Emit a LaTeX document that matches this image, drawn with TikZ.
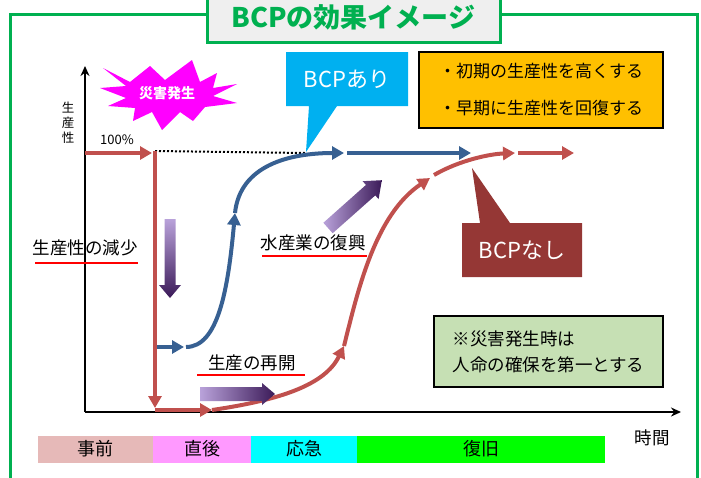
\documentclass[tikz,border=0pt]{standalone}
\usepackage{fontspec}
\setmainfont{Noto Sans CJK JP}
\usetikzlibrary{arrows.meta}
\definecolor{frameg}{HTML}{00B050}
\definecolor{titlebg}{HTML}{EFEFEF}
\definecolor{redc}{HTML}{C0504D}
\definecolor{bluec}{HTML}{376092}
\definecolor{burstc}{HTML}{FF00FF}
\definecolor{cyanc}{HTML}{00B0F0}
\definecolor{orangec}{HTML}{FFC000}
\definecolor{darkredc}{HTML}{953735}
\definecolor{noteg}{HTML}{C6E0B4}
\definecolor{segA}{HTML}{E6B9B8}
\definecolor{segB}{HTML}{FF99FF}
\definecolor{segC}{HTML}{00FFFF}
\definecolor{segD}{HTML}{00FF00}
\definecolor{gradlight}{HTML}{B9A2DA}
\definecolor{graddark}{HTML}{3B1A58}
\begin{document}
\begin{tikzpicture}[x=1pt,y=-1pt,
  every node/.style={inner sep=0pt, outer sep=0pt},
  tip/.style={-{Triangle[length=12pt,width=13pt]}},
  redl/.style={draw=redc, line width=4pt, tip},
  bluel/.style={draw=bluec, line width=4pt, tip},
  lbl/.style={font=\fontsize{17.5}{20}\selectfont, text=black},
  uline/.style={draw=red, line width=2.5pt},
  seg/.style={minimum height=27pt, font=\fontsize{18}{20}\selectfont, anchor=west},
  wtext/.style={text=white, font=\fontsize{22}{24}\selectfont},
  axis/.style={draw=black, line width=2pt, -{Stealth[length=10pt,width=9pt]}},
  ]
\clip (0,0) rectangle (701,477);
% frame
\draw[frameg, line width=3pt] (10,490) -- (10,14) -- (697,14) -- (697,490);
% title
\node[draw=frameg, line width=3pt, fill=titlebg, minimum width=293pt, minimum height=48pt] (titlebox) at (353.5,18) {};
\node[text=frameg, font=\fontsize{27}{30}\selectfont\bfseries] (titletext) at (353.5,17) {BCPの効果イメージ};

% axes
\coordinate (origin) at (85,412);
\coordinate (ytop) at (85,66);
\coordinate (xend) at (681,412);
\draw[axis] (origin) -- (ytop);
\draw[axis] (origin) -- (xend);
\node[font=\fontsize{12.5}{15}\selectfont, align=center] (ylab) at (68,123) {生\\産\\性};
\node[font=\fontsize{13}{15}\selectfont] (hundred) at (117,140) {100\%};
\node[font=\fontsize{17.5}{20}\selectfont] (xlab) at (652,438) {時間};

% starburst
\fill[burstc] (103,68) -- (130,82) -- (150,66) -- (165,80) -- (192,60) -- (200,82)
  -- (217,73) -- (213,88) -- (237,84) -- (213,96) -- (237,103) -- (205,107)
  -- (193,121) -- (180,112) -- (162,130) -- (152,112) -- (133,121) -- (135,108)
  -- (108,106) -- (126,98) -- (100,88) -- (126,86) -- cycle;
\node[text=white, font=\fontsize{14}{16}\selectfont\bfseries] (disaster) at (167,93) {災害発生};

% BCP ari callout
\fill[cyanc] (286,52) -- (408,52) -- (408,106) -- (337,106) -- (306,152) -- (309,106) -- (286,106) -- cycle;
\node[wtext] (bcpari) at (347,79) {BCPあり};

% orange box
\node[draw=black, line width=1.5pt, fill=orangec, minimum width=244pt, minimum height=76pt,
      align=left, font=\fontsize{17}{37}\selectfont] (goal) at (541,90)
  {・初期の生産性を高くする\\・早期に生産性を回復する};

% note box
\node[draw=black, line width=1.2pt, fill=noteg, minimum width=229pt, minimum height=71pt,
      align=left, font=\fontsize{17.5}{26}\selectfont] (note) at (548.5,351.5)
  {※災害発生時は\\人命の確保を第一とする};

% BCP nashi callout
\fill[darkredc] (462,223) -- (480,223) -- (472,168) -- (510,223) -- (582,223) -- (582,277) -- (462,277) -- cycle;
\node[wtext] (bcpnashi) at (522,250) {BCPなし};

% points of curves
\coordinate (r0) at (85,153);
\coordinate (r1) at (152,153);
\coordinate (r1b) at (155,151);
\coordinate (r2) at (155,408);
\coordinate (r2b) at (155,410);
\coordinate (r3) at (212,410);
\coordinate (r4) at (344,346);
\coordinate (r5) at (430,178);
\coordinate (r5b) at (434,175);
\coordinate (r6) at (515,153);
\coordinate (r6b) at (518,153);
\coordinate (r7) at (574,153);
\coordinate (b0) at (155,347);
\coordinate (b1) at (184,347);
\coordinate (b1b) at (186,347);
\coordinate (b2) at (235,213);
\coordinate (b3) at (344,153);
\coordinate (b3b) at (347,153);
\coordinate (b4) at (471,153);
\coordinate (dotend) at (305,153);

% dotted 100% line
\draw[black, line width=2pt, dash pattern=on 2pt off 2pt] (r1b) -- (dotend);

% blue (BCP ari)
\draw[bluel] (b0) -- (b1);
\draw[bluel] (b1b) .. controls (218,347) and (228,290) .. (b2);
\draw[bluel] (b2) .. controls (240,165) and (290,153) .. (b3);
\draw[bluel] (b3b) -- (b4);

% red (BCP nashi)
\draw[redl] (r0) -- (r1);
\draw[redl] (r1b) -- (r2);
\draw[redl] (r2b) -- (r3);
\draw[redl] (r3) .. controls (280,400) and (325,385) .. (r4);
\draw[redl] (r4) .. controls (358,290) and (375,215) .. (r5);
\draw[redl] (r5b) .. controls (460,160) and (490,154) .. (r6);
\draw[redl] (r6b) -- (r7);

% gradient arrows
\shade[top color=gradlight, bottom color=graddark] (164.5,219) -- (175.5,219) -- (175.5,285) -- (181,285) -- (170,298) -- (159,285) -- (164.5,285) -- cycle;
\shade[left color=gradlight, right color=graddark] (200,387) -- (262,387) -- (262,383) -- (275,394) -- (262,405) -- (262,401) -- (200,401) -- cycle;
\begin{scope}[shift={(328,228)}, rotate=41.6]
\shade[left color=gradlight, right color=graddark] (0,-7) -- (57,-7) -- (57,-12) -- (72,0) -- (57,12) -- (57,7) -- (0,7) -- cycle;
\end{scope}

% labels with underlines
\node[lbl] (decline) at (85,248) {生産性の減少};
\draw[uline] (35,263) -- (138,263);
\node[lbl] (revival) at (313,243) {水産業の復興};
\draw[uline] (262,256) -- (367,256);
\node[lbl] (restart) at (252,363) {生産の再開};
\draw[uline] (197,375) -- (305,375);

% timeline
\node[seg, fill=segA, minimum width=115pt] (pre) at (38,449) {事前};
\node[seg, fill=segB, minimum width=98pt] (after) at (153,449) {直後};
\node[seg, fill=segC, minimum width=106pt] (emerg) at (251,449) {応急};
\node[seg, fill=segD, minimum width=248pt] (recov) at (357,449) {復旧};
\end{tikzpicture}
\end{document}
